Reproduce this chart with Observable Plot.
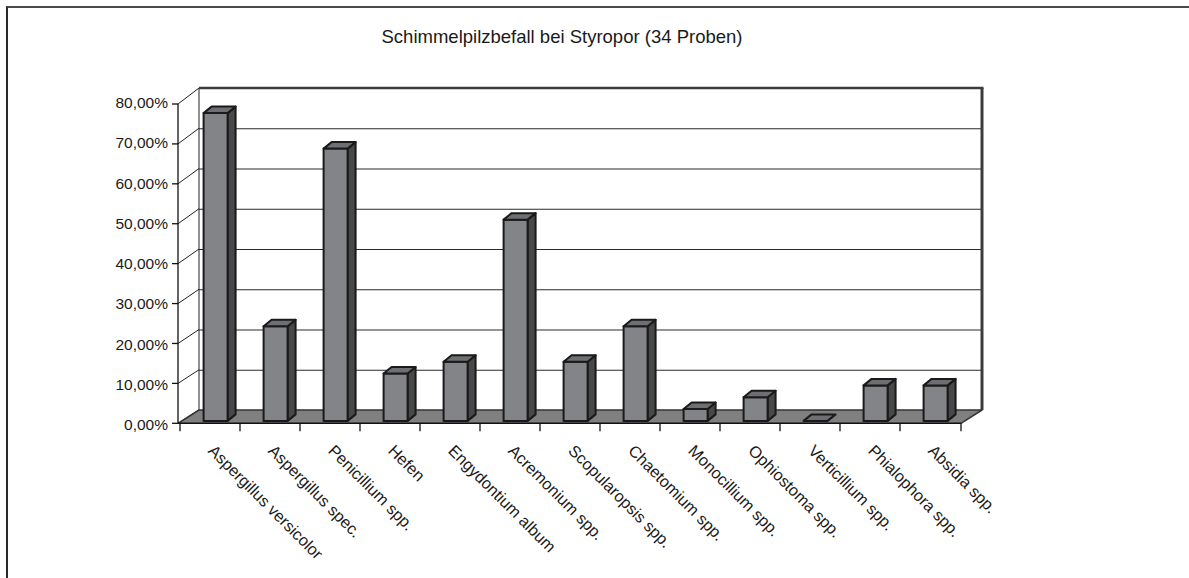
<!DOCTYPE html>
<html>
<head>
<meta charset="utf-8">
<script src="https://cdn.jsdelivr.net/npm/d3@7"></script>
<script src="https://cdn.jsdelivr.net/npm/@observablehq/plot@0.6"></script>
<style>
  html, body { margin: 0; padding: 0; background: #fff; }
  #wrap { position: relative; width: 1189px; height: 578px; overflow: hidden; background: #fff;
          font-family: "Liberation Sans", Arial, Helvetica, sans-serif; }
  #border { position: absolute; left: 6px; top: 6px; width: 1300px; height: 700px;
            border-left: 2px solid #2a2a2a; border-top: 2px solid #4a4a4a; pointer-events: none; }
  #title { height: 60px; box-sizing: border-box; padding-top: 27px; width: 1124px; text-align: center;
           font-size: 18.5px; line-height: 20px; color: #1a1a1a; }
  #chart svg { display: block; }
</style>
</head>
<body>
<div id="wrap">
  <div id="title"></div>
  <div id="chart"></div>
  <div id="border"></div>
</div>
<script>
// ---- data ----
const title = "Schimmelpilzbefall bei Styropor (34 Proben)";
const categories = [
  "Aspergillus versicolor", "Aspergillus spec.", "Penicillium spp.", "Hefen",
  "Engydontium album", "Acremonium spp.", "Scopularopsis spp.", "Chaetomium spp.",
  "Monocillium spp.", "Ophiostoma spp.", "Verticillium spp.", "Phialophora spp.", "Absidia spp."
];
const shares = [76.47, 23.53, 67.65, 11.76, 14.71, 50.00, 14.71, 23.53, 2.94, 5.88, 0, 8.82, 8.82];
const yTicks = [0, 10, 20, 30, 40, 50, 60, 70, 80];

const data = categories.map((c, i) => ({category: c, share: shares[i]}));
const fmt = d => d.toFixed(2).replace(".", ",") + "%";

document.getElementById("title").textContent = title;

// 3D depth of the plot box (front plane relative to back wall)
const WALL_DX = -21;
const frontDy = v => 13.3 + (16 - 13.3) * v / 80;
// bar geometry
const BAR_OFF_X = -27.4, BAR_W = 24, BAR_OFF_Y = 10.9, BAR_DX = 8, BAR_DY = -6.5;

const ns = "http://www.w3.org/2000/svg";
function el(name, attrs) {
  const e = document.createElementNS(ns, name);
  for (const k in attrs) e.setAttribute(k, attrs[k]);
  return e;
}
const poly = pts => pts.map(p => p.join(",")).join(" ");

// back wall left edge, left wall diagonals
function wallMark(index, scales, values, dims) {
  const {y} = scales;
  const g = el("g", {});
  const x0 = dims.marginLeft;
  for (const t of yTicks) {
    g.appendChild(el("line", {x1: x0 + WALL_DX, y1: y(t) + frontDy(t), x2: x0, y2: y(t), stroke: "#222", "stroke-width": 1}));
  }
  g.appendChild(el("line", {x1: x0, y1: y(80), x2: x0, y2: y(0), stroke: "#222", "stroke-width": 1}));
  return g;
}

function wallEdges(index, scales, values, dims) {
  const {y} = scales;
  const g = el("g", {});
  const x0 = dims.marginLeft, x1 = dims.width - dims.marginRight;
  g.appendChild(el("line", {x1: x0, y1: y(80), x2: x1 + 1.5, y2: y(80), stroke: "#3c3c3c", "stroke-width": 2.5}));
  g.appendChild(el("line", {x1: x1, y1: y(80), x2: x1, y2: y(0), stroke: "#3c3c3c", "stroke-width": 3}));
  return g;
}

function floorMark(index, scales, values, dims) {
  const {y} = scales;
  const x0 = dims.marginLeft, x1 = dims.width - dims.marginRight;
  const yb = y(0), yf = y(0) + frontDy(0);
  return el("polygon", {
    points: poly([[x0, yb], [x1, yb], [x1 + WALL_DX, yf], [x0 + WALL_DX, yf]]),
    fill: "#808080", stroke: "#333", "stroke-width": 1.5, "stroke-linejoin": "round"
  });
}

function barsMark(index, scales, values, dims) {
  const {x, y} = scales;
  const step = x(categories[1]) - x(categories[0]);
  const g = el("g", {stroke: "#1a1a1a", "stroke-width": 2, "stroke-linejoin": "round"});
  for (const d of data) {
    const cx = x(d.category) + step / 2;
    const l = cx + BAR_OFF_X, r = l + BAR_W;
    const base = y(0) + BAR_OFF_Y, top = y(d.share) + BAR_OFF_Y;
    if (d.share > 0) {
      g.appendChild(el("polygon", {points: poly([[r, top], [r + BAR_DX, top + BAR_DY], [r + BAR_DX, base + BAR_DY], [r, base]]), fill: "#484848"}));
      g.appendChild(el("rect", {x: l, y: top, width: BAR_W, height: base - top, fill: "#838488"}));
    }
    g.appendChild(el("polygon", {points: poly([[l, top], [l + BAR_DX, top + BAR_DY], [r + BAR_DX, top + BAR_DY], [r, top]]), fill: "#6e6f72"}));
  }
  return g;
}

function axesMark(index, scales, values, dims) {
  const {x, y} = scales;
  const g = el("g", {stroke: "#111", "stroke-width": 1.3});
  const x0 = dims.marginLeft + WALL_DX, x1 = dims.width - dims.marginRight + WALL_DX;
  const y0 = y(0) + frontDy(0);
  g.appendChild(el("line", {x1: x0, y1: y(80) + frontDy(80), x2: x0, y2: y0}));
  for (const t of yTicks) {
    const yy = y(t) + frontDy(t);
    g.appendChild(el("line", {x1: x0 - 6, y1: yy, x2: x0, y2: yy}));
  }
  g.appendChild(el("line", {x1: x0, y1: y0, x2: x1, y2: y0}));
  const xs = categories.map(c => x(c) + WALL_DX).concat([x1]);
  for (const xx of xs) {
    g.appendChild(el("line", {x1: xx, y1: y0, x2: xx, y2: y0 + 8}));
  }
  return g;
}

const chart = Plot.plot({
  width: 1189,
  height: 518,
  marginLeft: 199,
  marginRight: 207,
  marginTop: 28,
  marginBottom: 168,
  x: {type: "band", domain: categories, padding: 0, axis: null},
  y: {domain: [0, 80], axis: null},
  style: {fontFamily: "'Liberation Sans', Arial, Helvetica, sans-serif", background: "white", color: "#1a1a1a"},
  marks: [
    Plot.ruleY(yTicks.slice(1), {stroke: "#2a2a2a", strokeWidth: 1}),
    wallMark,
    wallEdges,
    floorMark,
    barsMark,
    axesMark,
    Plot.text(yTicks, {
      y: d => d, frameAnchor: "left", text: fmt, textAnchor: "end",
      dx: WALL_DX - 10.5, dy: frontDy(40), fontSize: 15.5, fill: "#1a1a1a"
    }),
    Plot.text(categories, {
      x: d => d, y: () => 0, text: d => d, rotate: 45, textAnchor: "start",
      dx: WALL_DX + 0.5, dy: 37.5, fontSize: 16.3, fill: "#1a1a1a"
    })
  ]
});
document.getElementById("chart").appendChild(chart);
</script>
</body>
</html>
